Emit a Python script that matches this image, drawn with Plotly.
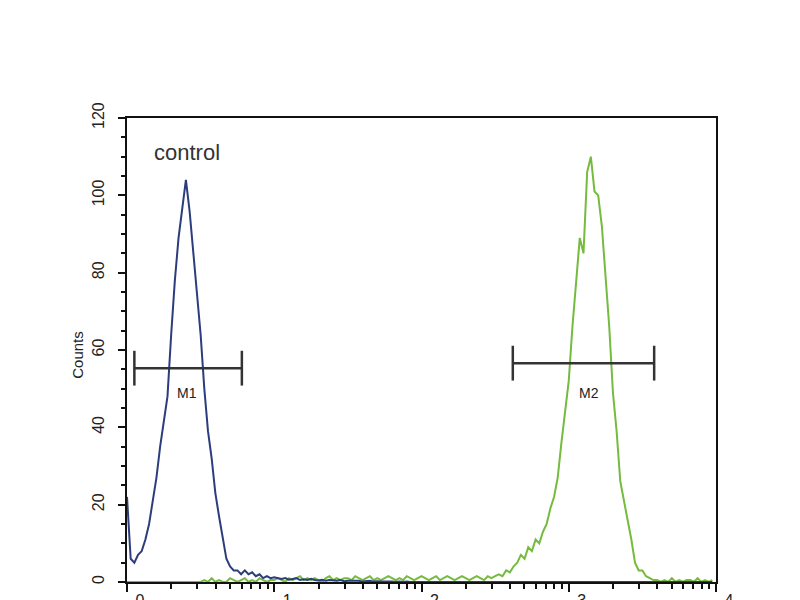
import numpy as np
import plotly.graph_objects as go

# Histogram bins: log decades 0..4, bin width 0.025 decade
BIN_WIDTH = 0.025
N_BINS = 160

control_counts = [
    22, 6, 5, 7, 8, 11, 15, 21, 27, 35,
    41, 48, 64, 78, 89, 97, 104, 96, 86, 76,
    64, 50, 39, 32, 23, 17, 11, 6, 4, 3,
    3, 2, 3, 2, 2.5, 1.5, 2, 1, 1.5, 1,
    1.2, 1, 0.8, 1, 0.6, 0.8, 1, 0.5, 0.7, 0.5,
    0.8, 0.5, 0.4, 0.6, 0.3, 0.5, 0.4, 0.3, 0.5, 0.2,
    0.3, 0.3, 0.2, 0.3, 0.1, 0.2, 0.3, 0.1, 0.2, 0.1,
    0.1, 0.2, 0.1, 0, 0.1, 0, 0.1, 0, 0, 0.1,
] + [0] * 80

sample_counts = (
    [0] * 20
    + [0, 0.5, 0, 1, 0, 0.5, 0, 0, 1, 0.5, 0, 0.5, 1, 0, 0.5, 0, 1, 0.5, 0, 0.5]
    + [0.5, 1, 0.5, 0, 1, 0.5, 1, 1.5, 0.5, 1, 0.5, 1, 0.5, 0, 1, 1.5, 0.5, 1, 0.5, 1,
       1, 0.5, 1.5, 1, 0.5, 1, 1.5, 0.5, 1, 0.5, 1, 1.5, 1, 0.5, 1, 0.5, 1.5, 1, 0.5, 1,
       1.5, 1, 0.5, 1, 1.5, 0.5, 1, 1.5, 1, 0.5, 1, 1.5, 1, 0.5, 1, 1.5]
    + [1, 0.5, 1.5, 1, 1.5, 2, 1.5, 3, 2.5, 4,
       5, 7, 6, 9, 8, 11, 10, 13, 15, 19,
       22, 27, 36, 44, 52, 66, 78, 89, 85, 106,
       110, 101, 100, 92, 79, 66, 49, 39, 26, 21,
       17, 11, 5, 3, 3, 1.5, 1, 0.5]
    + [0.5, 0, 0.5, 0, 1, 0, 0.5, 0, 0.5, 0.5, 0, 1, 0, 0.5, 0, 0.5]
)

bin_edges = [i * BIN_WIDTH for i in range(N_BINS)]

# Marker gates (decades, count level)
gate_names = ["M1", "M2"]
gate_start = [0.05, 2.62]
gate_end = [0.78, 3.58]
gate_level = [55.3, 56.6]
gate_label_x = [0.41, 3.14]
gate_label_y = [48.8, 48.8]
GATE_HALF = 4.5

x_tick_vals = [0, 1, 2, 3, 4]
x_tick_text = ["0", "1", "2", "3", "4"]
y_tick_vals = [0, 20, 40, 60, 80, 100, 120]

BLUE = "#2c3d7c"
GREEN = "#74bb3e"
DARK = "#333333"

fig = go.Figure()
fig.add_trace(go.Scatter(x=bin_edges, y=sample_counts[:N_BINS], mode="lines",
                         line=dict(color=GREEN, width=2, shape="linear"),
                         hoverinfo="skip", showlegend=False))
fig.add_trace(go.Scatter(x=bin_edges, y=control_counts[:N_BINS], mode="lines",
                         line=dict(color=BLUE, width=2, shape="linear"),
                         hoverinfo="skip", showlegend=False))

for name, x0, x1, lvl, lx, ly in zip(gate_names, gate_start, gate_end, gate_level,
                                     gate_label_x, gate_label_y):
    fig.add_shape(type="line", x0=x0, x1=x1, y0=lvl, y1=lvl, xref="x", yref="y",
                  line=dict(color=DARK, width=2.5))
    for xe in (x0, x1):
        fig.add_shape(type="line", x0=xe, x1=xe, y0=lvl - GATE_HALF, y1=lvl + GATE_HALF,
                      xref="x", yref="y", line=dict(color=DARK, width=2.5))
    fig.add_annotation(x=lx, y=ly, text=name, showarrow=False, xref="x", yref="y",
                       font=dict(family="Liberation Sans, Arial", size=14, color="#222"))

fig.add_annotation(x=0.41, y=111, text="control", showarrow=False, xref="x", yref="y",
                   font=dict(family="Liberation Sans, Arial", size=22, color="#333"))

fig.add_annotation(x=-0.083, y=0.49, xref="paper", yref="paper", text="Counts",
                   textangle=-90, showarrow=False, xanchor="center", yanchor="middle",
                   font=dict(family="Liberation Sans, Arial", size=15, color="#222"))

minor_x = [n + np.log10(k) for n in range(4) for k in range(2, 10)]

# Page body has an 8px margin, so the figure is 8px smaller and its left/top margins 8px less.
fig.update_layout(
    width=792, height=592,
    margin=dict(l=119, r=84, t=110, b=18),
    paper_bgcolor="white", plot_bgcolor="white",
    font=dict(family="Liberation Sans, Arial", color="#222"),
    xaxis=dict(range=[0, 4], showgrid=False, zeroline=False, automargin=False,
               showline=True, linecolor="#111", linewidth=2, mirror=True,
               ticks="outside", ticklen=8, tickwidth=2, tickcolor="#111",
               tickvals=x_tick_vals, ticktext=x_tick_text,
               tickfont=dict(size=16, color="#222"),
               ticklabelshift=13, ticklabelstandoff=-5,
               minor=dict(tickvals=minor_x, ticks="outside", ticklen=5,
                          tickwidth=1.5, tickcolor="#111")),
    yaxis=dict(range=[0, 120], showgrid=False, zeroline=False, automargin=False,
               showline=True, linecolor="#111", linewidth=2, mirror=True,
               ticks="outside", ticklen=7, tickwidth=2, tickcolor="#111",
               tickvals=y_tick_vals, tickangle=-90,
               tickfont=dict(size=16, color="#222"), ticklabelstandoff=8,
               minor=dict(dtick=5, ticks="outside", ticklen=4,
                          tickwidth=1.5, tickcolor="#111")),
)

fig.write_html("out.html")
